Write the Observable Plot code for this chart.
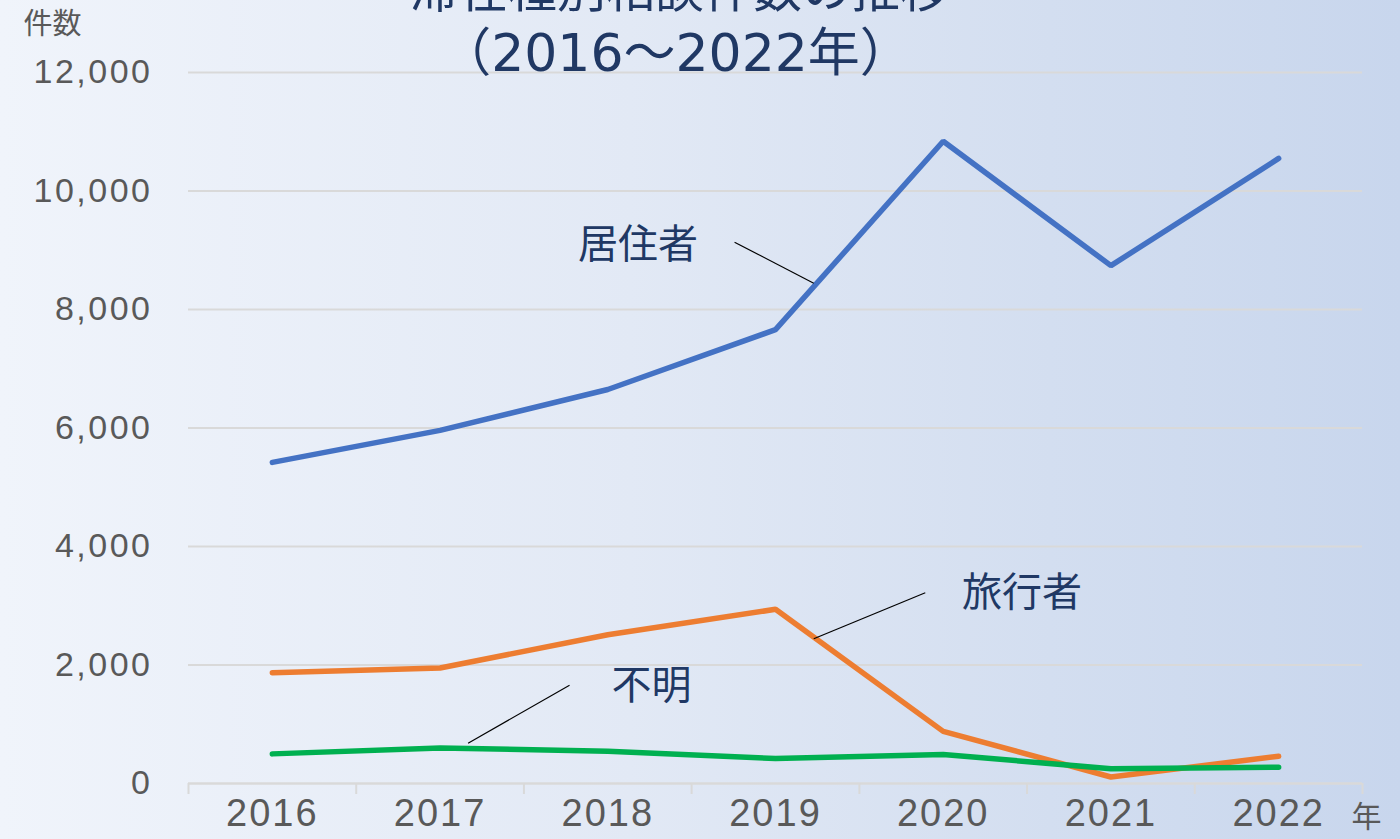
<!DOCTYPE html>
<html>
<head>
<meta charset="utf-8">
<script src="https://cdn.jsdelivr.net/npm/d3@7"></script>
<script src="https://cdn.jsdelivr.net/npm/@observablehq/plot@0.6"></script>
<style>
  html, body { margin: 0; padding: 0; }
  body {
    width: 1400px; height: 839px; overflow: hidden;
    background: linear-gradient(90deg, #f0f4fb 0%, #e2e9f5 45%, #d3def0 75%, #c8d6ed 100%);
  }
  g[aria-label="y-axis tick label"] text { letter-spacing: 2.5px; }
  g[aria-label="x-axis tick label"] text { letter-spacing: 2px; }
  g[aria-label="title line 2"] text { letter-spacing: 1px; }
</style>
</head>
<body>
<div id="chart"></div>
<script>
// ---- data ----
const years = [2016, 2017, 2018, 2019, 2020, 2021, 2022];
const residentValues = [5420, 5960, 6650, 7660, 10840, 8740, 10550];
const travelerValues = [1870, 1950, 2510, 2940, 880, 110, 460];
const unknownValues = [500, 600, 545, 420, 490, 250, 275];
const seriesNames = ["居住者", "旅行者", "不明"];
const seriesColors = ["#4472c4", "#ed7d31", "#00b050"];
const yTicks = [0, 2000, 4000, 6000, 8000, 10000, 12000];
const titleLines = ["滞在種別相談件数の推移", "（2016～2022年）"];
const yAxisLabel = "件数";
const xAxisUnit = "年";
// annotation labels (data units) and leader lines
const labelX = [2018.18, 2020.47, 2018.26];
const labelY = [9080, 3210, 1640];
const leaderX1 = [2018.756, 2019.893, 2017.772];
const leaderY1 = [9136, 3219, 1659];
const leaderX2 = [2019.228, 2019.228, 2017.167];
const leaderY2 = [8444, 2442, 680];

// ---- build tables ----
const valueSets = [residentValues, travelerValues, unknownValues];
const lineData = seriesNames.flatMap((s, i) =>
  years.map((yr, j) => ({ series: s, year: yr, value: valueSets[i][j] })));
const labels = seriesNames.map((s, i) => ({ name: s, x: labelX[i], y: labelY[i] }));
const leaders = seriesNames.map((s, i) => ({ x1: leaderX1[i], y1: leaderY1[i], x2: leaderX2[i], y2: leaderY2[i] }));
const boundaries = years.map(y => y - 0.5).concat([years[years.length - 1] + 0.5]);

const numFont = "'Liberation Sans', Arial, sans-serif";
const jpFont = "'Noto Sans CJK JP', sans-serif";
const titleFont = "'DejaVu Sans', 'Noto Sans CJK JP', sans-serif";

const chart = Plot.plot({
  width: 1400,
  height: 839,
  marginLeft: 188,
  marginRight: 38,
  marginTop: 72,
  marginBottom: 56,
  style: { background: "transparent", overflow: "visible" },
  x: { domain: [2015.5, 2022.5] },
  y: { domain: [0, 12000] },
  color: { domain: seriesNames, range: seriesColors },
  marks: [
    Plot.gridY(yTicks, { stroke: "#d9d9d9", strokeOpacity: 1, strokeWidth: 2 }),
    Plot.axisY(yTicks, {
      tickSize: 0, tickPadding: 36, tickFormat: d3.format(","),
      fontSize: 34, fontFamily: numFont, fill: "#595959", label: null
    }),
    Plot.ruleY([0], { stroke: "#d9d9d9", strokeWidth: 2 }),
    Plot.axisX(boundaries, {
      tickSize: 11, tickFormat: () => "", stroke: "#d9d9d9", strokeWidth: 2, label: null
    }),
    Plot.axisX(years, {
      tickSize: 0, tickPadding: 16, tickFormat: d => String(d),
      fontSize: 38, fontFamily: numFont, fill: "#595959", label: null
    }),
    Plot.line(lineData, {
      x: "year", y: "value", z: "series", stroke: "series",
      strokeWidth: 5.5, strokeLinecap: "round", strokeLinejoin: "miter"
    }),
    Plot.link(leaders, { x1: "x1", y1: "y1", x2: "x2", y2: "y2", stroke: "#000", strokeWidth: 1.2 }),
    Plot.text(labels, {
      x: "x", y: "y", text: "name", fontSize: 40, fontFamily: jpFont,
      fill: "#203864", textAnchor: "middle", lineAnchor: "middle"
    }),
    Plot.text([yAxisLabel], {
      frameAnchor: "top-left", dx: -136, dy: -48, text: d => d,
      fontSize: 29, fontFamily: jpFont, fill: "#595959", textAnchor: "middle", lineAnchor: "middle"
    }),
    Plot.text([xAxisUnit], {
      frameAnchor: "bottom-right", dx: 4, dy: 34, text: d => d,
      fontSize: 30, fontFamily: jpFont, fill: "#595959", textAnchor: "middle", lineAnchor: "middle"
    }),
    Plot.text([titleLines[0]], {
      frameAnchor: "top", dx: -96, dy: -66, text: d => d,
      fontSize: 49, fontFamily: jpFont, fill: "#203864", textAnchor: "middle", lineAnchor: "bottom"
    }),
    Plot.text([titleLines[1]], {
      ariaLabel: "title line 2",
      frameAnchor: "top", dx: -100, dy: -2, text: d => d,
      fontSize: 52, fontFamily: titleFont, fill: "#203864", textAnchor: "middle", lineAnchor: "bottom"
    })
  ]
});
document.getElementById("chart").appendChild(chart);
</script>
</body>
</html>
